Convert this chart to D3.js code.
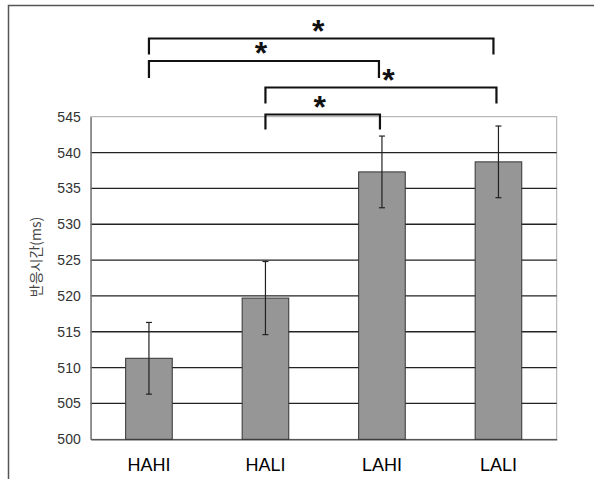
<!DOCTYPE html>
<html>
<head>
<meta charset="utf-8">
<script src="https://cdn.jsdelivr.net/npm/d3@7"></script>
<style>
  html, body { margin: 0; padding: 0; background: #fff; }
  svg { display: block; }
</style>
</head>
<body>
<svg id="chart" width="594" height="479"></svg>
<script>
// ---- data ----
const categories = ["HAHI", "HALI", "LAHI", "LALI"];
const means = [511.3, 519.7, 537.3, 538.7];
const errors = [5.0, 5.1, 5.0, 5.0];
const yTicks = [500, 505, 510, 515, 520, 525, 530, 535, 540, 545];
const yLabel = "반응시간(ms)";
// significance comparisons: [from, to]
const comparisons = [["HAHI", "LALI"], ["HAHI", "LAHI"], ["HALI", "LALI"], ["HALI", "LAHI"]];
const sigMarks = ["*", "*", "*", "*"];

// ---- layout ----
const svg = d3.select("#chart");
const plot = { left: 90.7, right: 556.7, top: 116.7, bottom: 439.3 };

const x = d3.scaleBand().domain(categories)
  .range([plot.left, plot.right]).paddingInner(0.6).paddingOuter(0.3);
const y = d3.scaleLinear().domain([500, 545]).range([plot.bottom, plot.top]);

// outer frame (top and left only visible)
svg.append("path")
  .attr("d", `M8.5,${479} L8.5,5.5 L594,5.5`)
  .attr("fill", "none").attr("stroke", "#555").attr("stroke-width", 1.5);

// plot border (light)
svg.append("rect")
  .attr("x", plot.left).attr("y", plot.top)
  .attr("width", plot.right - plot.left).attr("height", plot.bottom - plot.top)
  .attr("fill", "#fff").attr("stroke", "#aaa").attr("stroke-width", 1);

// gridlines
svg.append("g").selectAll("line")
  .data(yTicks.filter(d => d > 500 && d < 545))
  .join("line")
  .attr("x1", plot.left).attr("x2", plot.right)
  .attr("y1", d => y(d)).attr("y2", d => y(d))
  .attr("stroke", "#222").attr("stroke-width", 1.3);

// y axis
const yAxis = d3.axisLeft(y).tickValues(yTicks).tickSize(0).tickPadding(10);
const gy = svg.append("g").attr("transform", `translate(${plot.left},0)`).call(yAxis);
gy.select(".domain").attr("stroke", "#777").attr("stroke-width", 1.3);
gy.selectAll("text").attr("font-family", "Arial, 'Liberation Sans', sans-serif")
  .attr("font-size", 14).attr("fill", "#333");

// x axis baseline
const xAxis = d3.axisBottom(x).tickSize(0).tickPadding(19);
const gx = svg.append("g").attr("transform", `translate(0,${plot.bottom})`).call(xAxis);
gx.select(".domain").attr("stroke", "#555").attr("stroke-width", 1.5);
gx.selectAll("text").attr("font-family", "Arial, 'Liberation Sans', sans-serif")
  .attr("font-size", 18).attr("fill", "#000");

// bars
svg.append("g").selectAll("rect")
  .data(categories)
  .join("rect")
  .attr("x", d => x(d)).attr("width", x.bandwidth())
  .attr("y", (d, i) => y(means[i]))
  .attr("height", (d, i) => y(500) - y(means[i]))
  .attr("fill", "#969696").attr("stroke", "#333").attr("stroke-width", 1);

// error bars
const eg = svg.append("g").attr("stroke", "#222").attr("stroke-width", 1.2);
categories.forEach((c, i) => {
  const cx = x(c) + x.bandwidth() / 2;
  const hi = y(means[i] + errors[i]), lo = y(means[i] - errors[i]);
  eg.append("line").attr("x1", cx).attr("x2", cx).attr("y1", hi).attr("y2", lo);
  eg.append("line").attr("x1", cx - 3).attr("x2", cx + 3).attr("y1", hi).attr("y2", hi);
  eg.append("line").attr("x1", cx - 3).attr("x2", cx + 3).attr("y1", lo).attr("y2", lo);
});

// y label
svg.append("text")
  .attr("transform", "translate(41,257) rotate(-90)")
  .attr("text-anchor", "middle")
  .attr("font-family", "'Noto Sans CJK KR', sans-serif")
  .attr("font-size", 14).attr("fill", "#444")
  .text(yLabel);

// significance brackets
const bracketY = [38.5, 61, 87.5, 114.5];
const bracketDrop = [16, 17, 16, 15];
const rightOffset = [-5, -3, -2, -2];
const bg = svg.append("g");
comparisons.forEach((p, i) => {
  const x1 = x(p[0]) + x.bandwidth() / 2;
  const x2 = x(p[1]) + x.bandwidth() / 2 + rightOffset[i];
  const by = bracketY[i], bd = by + bracketDrop[i];
  bg.append("path")
    .attr("d", `M${x1},${bd} L${x1},${by} L${x2},${by} L${x2},${bd}`)
    .attr("fill", "none").attr("stroke", "#111").attr("stroke-width", 2.2);
  const mx = i === 2 ? x2 - 108 : (x1 + x2) / 2 - 3;
  bg.append("text")
    .attr("x", mx)
    .attr("y", by + 3)
    .attr("text-anchor", "middle")
    .attr("font-family", "Arial, 'Liberation Sans', sans-serif")
    .attr("font-weight", "bold")
    .attr("font-size", 32).attr("fill", "#111")
    .text(sigMarks[i]);
});
</script>
</body>
</html>
